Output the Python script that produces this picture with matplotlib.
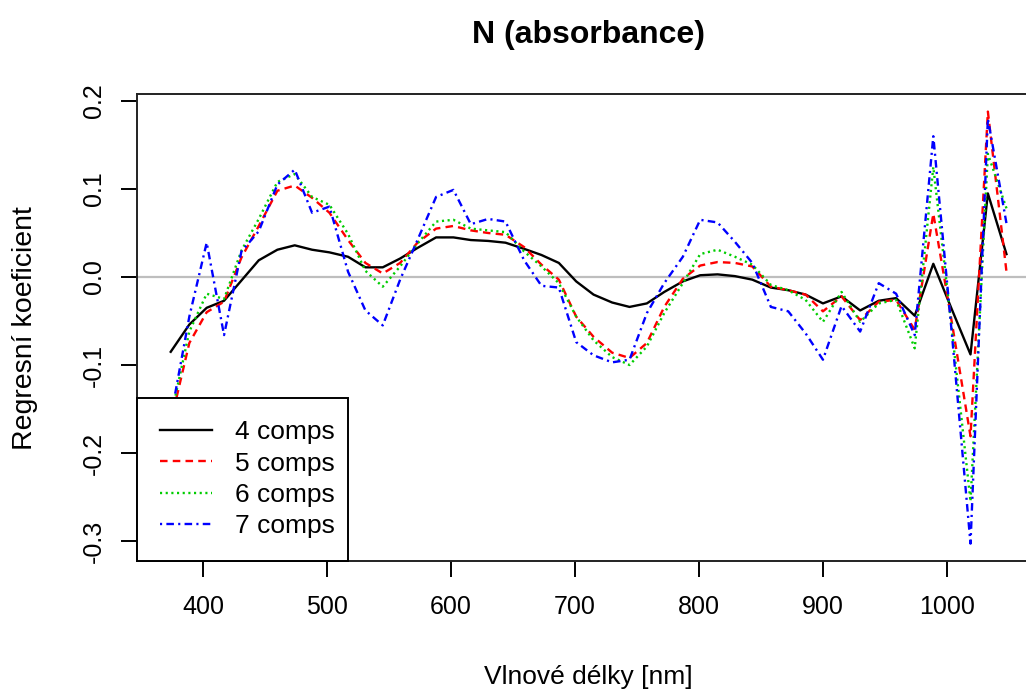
import numpy as np
import matplotlib
matplotlib.use("Agg")
import matplotlib.pyplot as plt
from matplotlib.ticker import FormatStrFormatter

plt.rcParams["font.family"] = ["Liberation Sans", "DejaVu Sans"]
plt.rcParams["axes.unicode_minus"] = False

# vlnove delky [nm] a regresni koeficienty PLS modelu pro 4-7 komponent
wavelengths = [374, 389, 403, 417, 431, 445, 460, 474, 488, 502, 517, 531,
               545, 559, 573, 588, 602, 616, 630, 644, 659, 673, 687, 701,
               715, 730, 744, 758, 772, 787, 801, 815, 829, 843, 858, 872,
               886, 900, 915, 930, 945, 959, 974, 989, 1004, 1019, 1033, 1048]

comps4 = [-0.085, -0.054, -0.035, -0.027, -0.004, 0.019, 0.031, 0.036, 0.031, 0.028,
          0.023, 0.011, 0.011, 0.021, 0.033, 0.045, 0.045, 0.042, 0.041, 0.039,
          0.032, 0.025, 0.016, -0.005, -0.020, -0.029, -0.034, -0.030, -0.017, -0.005,
          0.002, 0.003, 0.001, -0.003, -0.012, -0.015, -0.020, -0.030, -0.022, -0.038,
          -0.027, -0.024, -0.044, 0.015, -0.037, -0.088, 0.095, 0.026]

comps5 = [-0.165, -0.075, -0.040, -0.028, 0.022, 0.058, 0.098, 0.104, 0.090, 0.073,
          0.042, 0.016, 0.004, 0.016, 0.039, 0.055, 0.058, 0.053, 0.050, 0.048,
          0.034, 0.014, -0.003, -0.045, -0.068, -0.086, -0.092, -0.075, -0.034, -0.002,
          0.013, 0.017, 0.016, 0.012, -0.011, -0.015, -0.020, -0.039, -0.022, -0.049,
          -0.028, -0.026, -0.060, 0.072, -0.052, -0.181, 0.188, 0.006]

comps6 = [-0.160, -0.062, -0.019, -0.025, 0.030, 0.066, 0.108, 0.117, 0.091, 0.082,
          0.049, 0.007, -0.011, 0.012, 0.038, 0.063, 0.065, 0.055, 0.053, 0.051,
          0.029, 0.012, -0.007, -0.045, -0.072, -0.091, -0.100, -0.079, -0.041, -0.007,
          0.026, 0.031, 0.023, 0.014, -0.009, -0.015, -0.026, -0.051, -0.017, -0.051,
          -0.030, -0.026, -0.081, 0.125, -0.060, -0.255, 0.140, 0.078]

comps7 = [-0.160, -0.045, 0.039, -0.066, 0.029, 0.052, 0.105, 0.122, 0.073, 0.080,
          0.006, -0.038, -0.055, -0.003, 0.042, 0.091, 0.099, 0.060, 0.066, 0.063,
          0.019, -0.010, -0.012, -0.074, -0.089, -0.097, -0.094, -0.041, -0.007, 0.023,
          0.065, 0.062, 0.040, 0.016, -0.034, -0.039, -0.064, -0.094, -0.033, -0.062,
          -0.007, -0.019, -0.066, 0.160, -0.065, -0.303, 0.180, 0.061]

labels = ["4 comps", "5 comps", "6 comps", "7 comps"]
colors = ["black", "#FF0000", "#00CD00", "#0000FF"]
dashes = [None, (3.2, 2.2), (0.9, 1.5), (0.9, 1.8, 3.2, 1.8)]

W, H = 1026, 693
fig = plt.figure(figsize=(W / 100, H / 100), dpi=100)
ax = fig.add_axes([137.3 / W, (H - 560.9) / H, 902.6 / W, 466.6 / H])

ax.axhline(0, color="#BEBEBE", lw=1.6, zorder=1)

series = [comps4, comps5, comps6, comps7]
for vals, lab, col, d in zip(series, labels, colors, dashes):
    line, = ax.plot(wavelengths, vals, color=col, lw=1.7, label=lab, zorder=2)
    if d is not None:
        line.set_dashes(d)

# rozsah os jako v R (4 % navic na kazde strane)
x = np.array(wavelengths, dtype=float)
allv = np.concatenate([np.array(s) for s in series])
xr = x.max() - x.min()
yr = allv.max() - allv.min()
ax.set_xlim(x.min() - 0.04 * xr, x.max() + 0.04 * xr)
ax.set_ylim(allv.min() - 0.04 * yr, allv.max() + 0.04 * yr)

ax.set_xticks([400, 500, 600, 700, 800, 900, 1000])
ax.set_yticks([-0.3, -0.2, -0.1, 0.0, 0.1, 0.2])
ax.yaxis.set_major_formatter(FormatStrFormatter("%.1f"))
ax.tick_params(axis="both", direction="out", length=11.5, width=1.4,
               labelsize=18, colors="black")
ax.tick_params(axis="x", pad=13)
ax.tick_params(axis="y", pad=11, labelrotation=90)
for t in ax.get_yticklabels():
    t.set_verticalalignment("center")

for sp in ax.spines.values():
    sp.set_linewidth(1.4)
    sp.set_color("#222222")

ax.set_title("N (absorbance)", fontsize=23, fontweight="bold", pad=36.7)
ax.set_xlabel("Vlnové délky [nm]", fontsize=19)
ax.set_ylabel("Regresní koeficient", fontsize=20.5)
ax.xaxis.set_label_coords(0.5, (560.9 - 677) / 466.6)
ax.xaxis.label.set_verticalalignment("center")
ax.yaxis.set_label_coords((25 - 137.3) / 902.6, 0.5)
ax.yaxis.label.set_verticalalignment("center")

# legenda v levem dolnim rohu, sirka pevne dana
leg = ax.legend(loc="lower left", bbox_to_anchor=(0, 0, 210.5 / 902.6, 1),
                mode="expand", borderaxespad=0, fontsize=19,
                handlelength=1.97, handletextpad=0.87, borderpad=0.85,
                labelspacing=0.28, fancybox=False, framealpha=1,
                edgecolor="black")
leg.get_frame().set_linewidth(1.4)
leg.set_zorder(5)

fig.savefig("out.png", dpi=100)
